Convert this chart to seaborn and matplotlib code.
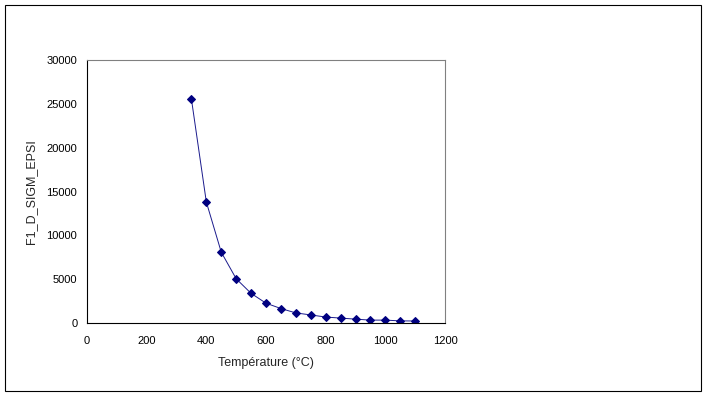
import matplotlib
matplotlib.use("Agg")
import matplotlib.pyplot as plt
import seaborn as sns
import pandas as pd
from matplotlib.patches import Rectangle

# Data
temperature = [350, 400, 450, 500, 550, 600, 650, 700, 750, 800,
               850, 900, 950, 1000, 1050, 1100]
f1_values = [25550, 13800, 8080, 5050, 3380, 2260, 1650, 1150, 920, 680,
             560, 440, 330, 330, 240, 230]

x_ticks = [0, 200, 400, 600, 800, 1000, 1200]
y_ticks = [0, 5000, 10000, 15000, 20000, 25000, 30000]

df = pd.DataFrame({"temperature": temperature, "f1": f1_values})

sns.set_style("white")
plt.rcParams["font.family"] = ["Liberation Sans", "DejaVu Sans"]

fig = plt.figure(figsize=(7.06, 3.97), dpi=100)
fig.patches.append(Rectangle((5 / 706, 6 / 397), 696 / 706, 386 / 397,
                             transform=fig.transFigure, fill=False,
                             edgecolor="black", linewidth=0.8))

ax = fig.add_axes([87 / 706, 1 - 323 / 397, 358 / 706, 263 / 397])
sns.lineplot(data=df, x="temperature", y="f1", ax=ax, color="#1a1a8c",
             linewidth=0.7, marker="D", markersize=4,
             markeredgecolor="#000080", markerfacecolor="#000080")

ax.set_xlim(0, 1200)
ax.set_ylim(0, 30000)
ax.set_xticks(x_ticks)
ax.set_yticks(y_ticks)
ax.tick_params(axis="both", direction="out", length=3, width=0.8,
               labelsize=8, colors="black", pad=4)
ax.tick_params(axis="x", pad=6)
ax.set_xlabel("Température (°C)", fontsize=9, labelpad=8)
ax.set_ylabel("F1_D_SIGM_EPSI", fontsize=9, labelpad=7)

for side in ["left", "bottom"]:
    ax.spines[side].set_color("black")
    ax.spines[side].set_linewidth(0.8)
for side in ["top", "right"]:
    ax.spines[side].set_color("#808080")
    ax.spines[side].set_linewidth(0.8)
ax.grid(False)

fig.savefig("out.png", dpi=100)
